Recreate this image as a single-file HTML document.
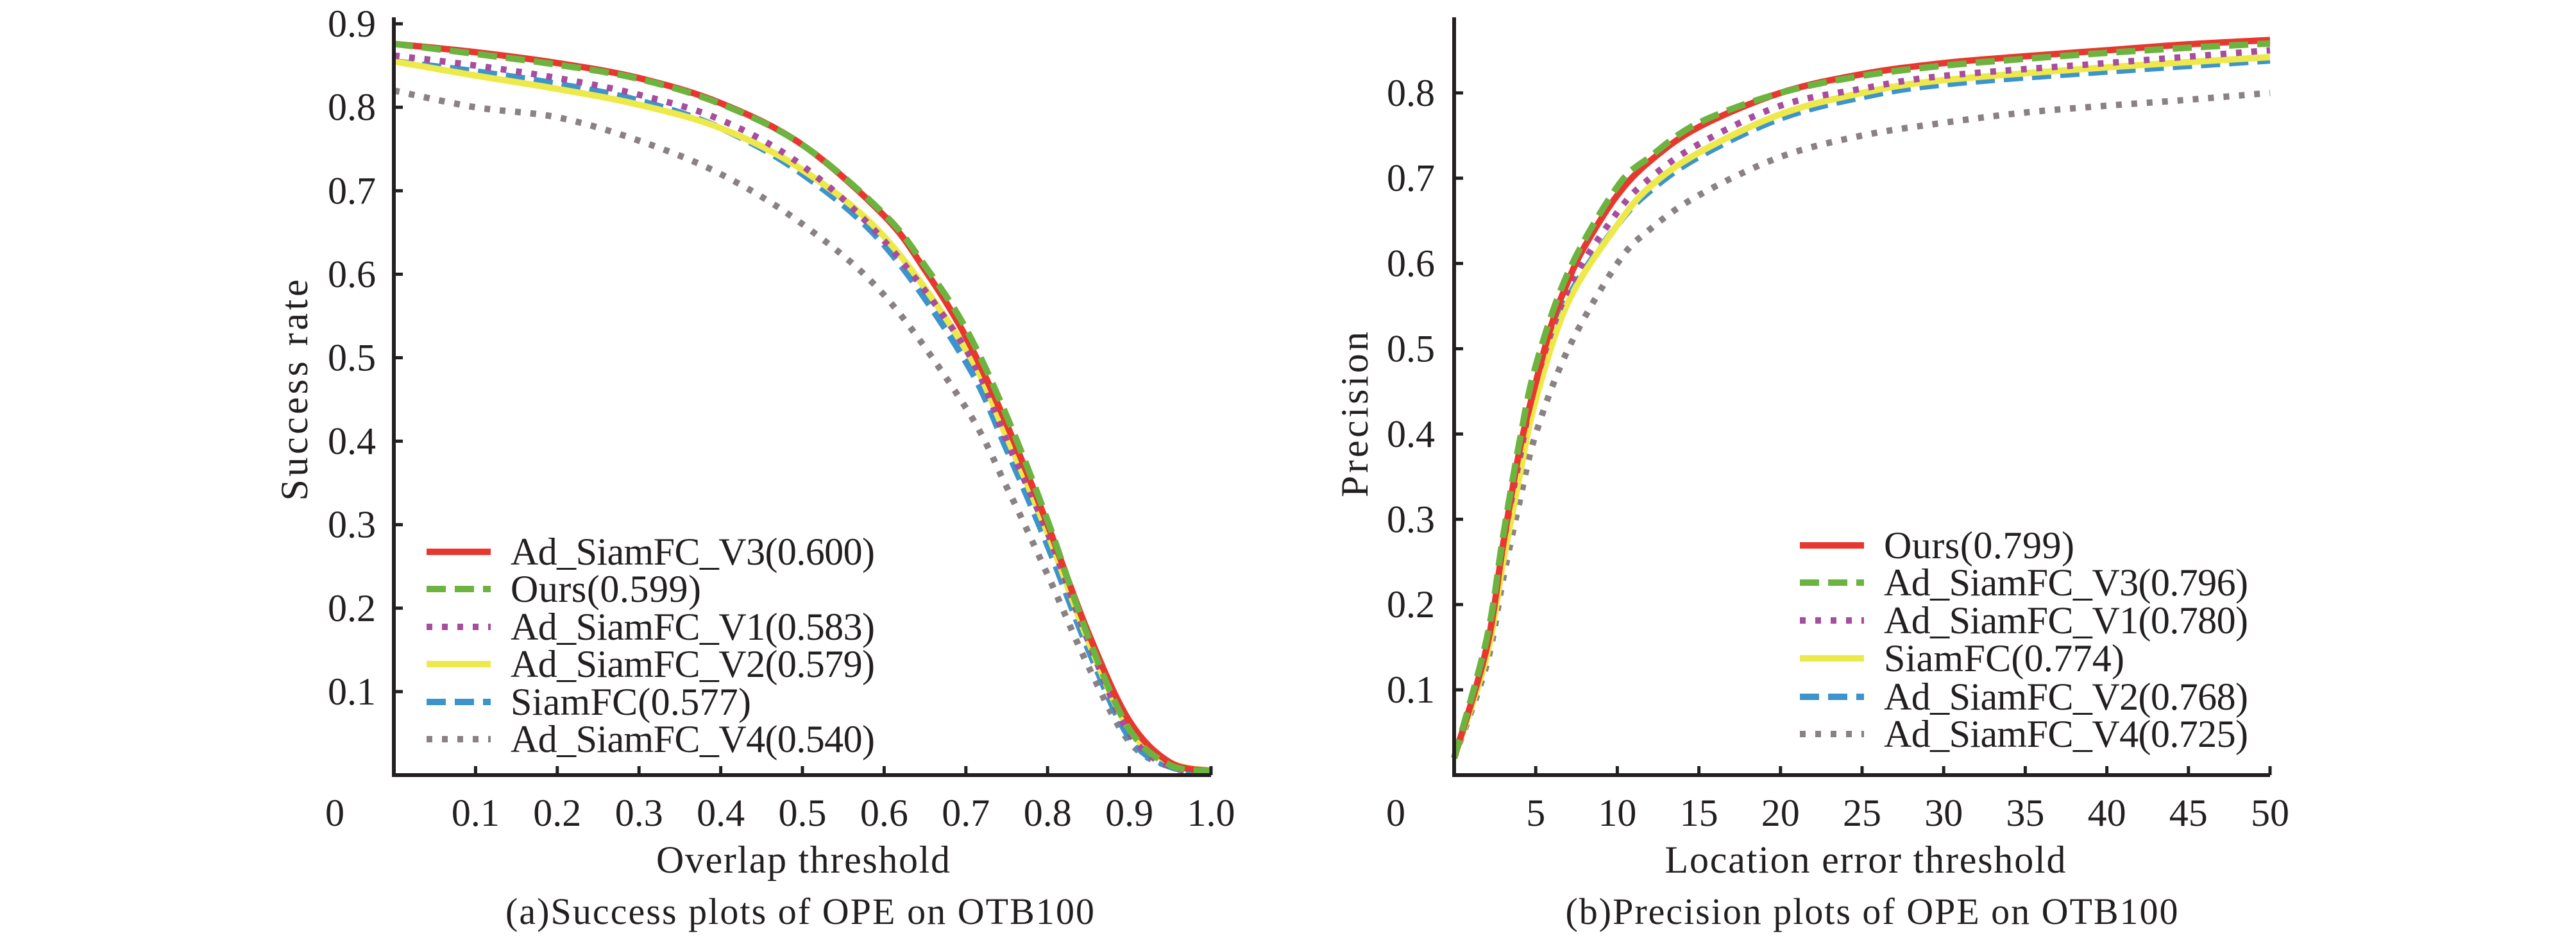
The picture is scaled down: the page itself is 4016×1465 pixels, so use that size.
<!DOCTYPE html>
<html><head><meta charset="utf-8">
<style>
html,body{margin:0;padding:0;background:#fff;}
svg{display:block;}
</style></head>
<body>
<svg id="s" xmlns="http://www.w3.org/2000/svg" width="4016" height="1465" viewBox="0 0 4016 1465" font-family="'Liberation Serif','DejaVu Serif',serif" fill="#231f20">
<g id="plots"></g>
<g stroke="#231f20" stroke-width="6" fill="none">
<polyline points="614,27 614,1208 1888,1208"/>
<polyline points="2267,27 2267,1208 3539,1208"/>
</g>
<g id="ticks" stroke="#231f20" stroke-width="5"></g>
<g id="labels" font-size="60"></g>
<text x="522" y="1287" font-size="60" text-anchor="middle">0</text>
<text x="2176" y="1287" font-size="60" text-anchor="middle">0</text>
<text x="1252" y="1360" font-size="60" text-anchor="middle" textLength="458">Overlap threshold</text>
<text x="1247" y="1440" font-size="58" text-anchor="middle" textLength="918">(a)Success plots of OPE on OTB100</text>
<text x="2908" y="1360" font-size="60" text-anchor="middle" textLength="625">Location error threshold</text>
<text x="2918" y="1440" font-size="58" text-anchor="middle" textLength="955">(b)Precision plots of OPE on OTB100</text>
<text transform="translate(479,608) rotate(-90)" font-size="60" text-anchor="middle" textLength="345">Success rate</text>
<text transform="translate(2132,646) rotate(-90)" font-size="60" text-anchor="middle" textLength="258">Precision</text>
<g id="legend" font-size="60"></g>
</svg>
<script>
const NS="http://www.w3.org/2000/svg";
function el(p,t,a,txt){const e=document.createElementNS(NS,t);for(const k in a)e.setAttribute(k,a[k]);if(txt!==undefined)e.textContent=txt;p.appendChild(e);return e;}
const C={red:"#e8372e",green:"#6db33f",purple:"#a64d9e",yellow:"#ede94a",blue:"#3d94cc",gray:"#8a8282"};
const ST={solid:{},dash:{"stroke-dasharray":"30 14"},dot:{"stroke-dasharray":"9 15"}};
const ticks=document.getElementById('ticks'),labels=document.getElementById('labels'),plots=document.getElementById('plots'),legend=document.getElementById('legend');
const L={x0:614,xs:1274,y0:1208,ys:1301};
const R={x0:2267,xs:1272/50,y0:1208,ys:1329};
for(let i=1;i<=10;i++){const x=L.x0+i*127.4;el(ticks,'line',{x1:x,y1:1208,x2:x,y2:1194});el(labels,'text',{x:x,y:1287,'text-anchor':'middle'},i==10?'1.0':'0.'+i);}
for(let i=1;i<=9;i++){const y=L.y0-i*130.1;el(ticks,'line',{x1:614,y1:y,x2:628,y2:y});el(labels,'text',{x:586,y:y+20,'text-anchor':'end'},'0.'+i);}
for(let i=1;i<=10;i++){const x=R.x0+i*127.2;el(ticks,'line',{x1:x,y1:1208,x2:x,y2:1194});el(labels,'text',{x:x,y:1287,'text-anchor':'middle'},String(i*5));}
for(let i=1;i<=8;i++){const y=R.y0-i*132.9;el(ticks,'line',{x1:2267,y1:y,x2:2281,y2:y});el(labels,'text',{x:2237,y:y+20,'text-anchor':'end'},'0.'+i);}
function curve(pts,A,col,st){
 const P=pts.map(p=>[A.x0+p[0]*A.xs,A.y0-p[1]*A.ys]);
 let d='M'+P[0][0]+','+P[0][1];
 for(let i=0;i<P.length-1;i++){const p0=P[i-1]||P[i],p1=P[i],p2=P[i+1],p3=P[i+2]||p2;
  const c1=[p1[0]+(p2[0]-p0[0])/6,p1[1]+(p2[1]-p0[1])/6],c2=[p2[0]-(p3[0]-p1[0])/6,p2[1]-(p3[1]-p1[1])/6];
  d+=' C'+c1+' '+c2+' '+p2;}
 el(plots,'path',Object.assign({d:d,fill:'none',stroke:col,'stroke-width':10,'stroke-linejoin':'round'},ST[st]));
}
const left=[
["gray","dot",[[0,.82],[.1,.80],[.2,.788],[.3,.76],[.4,.72],[.5,.66],[.6,.575],[.7,.44],[.75,.345],[.8,.24],[.85,.13],[.9,.04],[.95,.01],[1,.005]]],
["blue","dash",[[0,.855],[.1,.843],[.2,.828],[.3,.808],[.4,.775],[.5,.72],[.6,.635],[.7,.495],[.75,.39],[.8,.275],[.85,.15],[.9,.045],[.95,.01],[1,.005]]],
["yellow","solid",[[0,.855],[.1,.838],[.2,.822],[.3,.803],[.4,.775],[.5,.725],[.6,.645],[.7,.51],[.75,.405],[.8,.29],[.85,.16],[.9,.055],[.95,.015],[1,.005]]],
["purple","dot",[[0,.862],[.1,.85],[.2,.835],[.3,.815],[.4,.785],[.5,.73],[.6,.64],[.7,.51],[.75,.40],[.8,.29],[.85,.16],[.9,.05],[.95,.01],[1,.005]]],
["red","solid",[[0,.876],[.1,.866],[.2,.853],[.3,.835],[.4,.805],[.5,.755],[.6,.67],[.65,.605],[.7,.525],[.75,.42],[.8,.30],[.85,.17],[.9,.065],[.95,.015],[1,.005]]],
["green","dash",[[0,.876],[.1,.864],[.2,.851],[.3,.834],[.4,.804],[.5,.755],[.6,.672],[.65,.61],[.7,.535],[.75,.43],[.8,.305],[.85,.165],[.9,.055],[.95,.012],[1,.005]]]
];
left.forEach(s=>curve(s[2],L,C[s[0]],s[1]));
const right=[
["gray","dot",[[0,.02],[2,.13],[3,.23],[4,.32],[5,.40],[7,.50],[10,.60],[12,.64],[15,.68],[20,.725],[25,.75],[30,.765],[35,.777],[40,.785],[45,.792],[50,.80]]],
["blue","dash",[[0,.02],[2,.15],[3,.26],[4,.36],[5,.45],[7,.56],[10,.645],[12,.685],[15,.725],[20,.77],[25,.795],[30,.81],[40,.825],[50,.838]]],
["yellow","solid",[[0,.02],[2,.14],[3,.25],[4,.35],[5,.44],[7,.555],[10,.645],[12,.69],[15,.73],[20,.775],[25,.80],[30,.815],[40,.83],[50,.842]]],
["purple","dot",[[0,.02],[2,.15],[3,.27],[4,.37],[5,.46],[7,.57],[10,.66],[12,.70],[15,.74],[20,.785],[25,.805],[30,.82],[40,.835],[50,.85]]],
["red","solid",[[0,.02],[2,.15],[3,.27],[4,.38],[5,.46],[6,.53],[7,.58],[8,.62],[10,.68],[12,.72],[15,.76],[20,.80],[25,.822],[30,.835],[35,.843],[40,.85],[45,.857],[50,.862]]],
["green","dash",[[0,.02],[2,.16],[3,.28],[4,.39],[5,.48],[7,.59],[10,.69],[12,.725],[15,.765],[20,.80],[25,.82],[30,.832],[35,.84],[40,.847],[45,.853],[50,.858]]]
];
right.forEach(s=>curve(s[2],R,C[s[0]],s[1]));
function leg(x1,x2,tx,ys,items){items.forEach((it,i)=>{const y=ys[i];el(legend,'line',Object.assign({x1:x1,y1:y,x2:x2,y2:y,stroke:C[it[0]],'stroke-width':10},ST[it[1]]));el(legend,'text',{x:tx,y:y+20,textLength:it[3]},it[2]);});}
leg(665,765,796,[860,918,977,1035,1094,1152],[["red","solid","Ad_SiamFC_V3(0.600)",568],["green","dash","Ours(0.599)",297],["purple","dot","Ad_SiamFC_V1(0.583)",568],["yellow","solid","Ad_SiamFC_V2(0.579)",568],["blue","dash","SiamFC(0.577)",375],["gray","dot","Ad_SiamFC_V4(0.540)",568]]);
leg(2806,2906,2937,[850,908,967,1026,1086,1144],[["red","solid","Ours(0.799)",297],["green","dash","Ad_SiamFC_V3(0.796)",568],["purple","dot","Ad_SiamFC_V1(0.780)",568],["yellow","solid","SiamFC(0.774)",375],["blue","dash","Ad_SiamFC_V2(0.768)",568],["gray","dot","Ad_SiamFC_V4(0.725)",568]]);
</script>
</body></html>
